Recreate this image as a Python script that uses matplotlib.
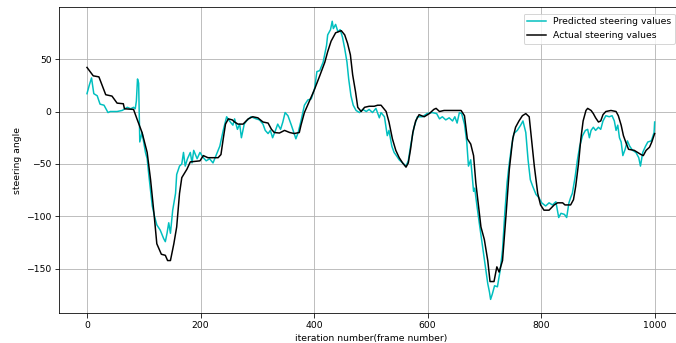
import matplotlib
matplotlib.use('Agg')
import matplotlib.pyplot as plt

# frame numbers and steering values
pred_frames = [0, 4, 8, 12, 18, 23, 30, 37, 41, 53, 62, 71, 77, 82, 85, 87, 89, 91, 93, 97,
               103, 106, 109, 115, 119, 123, 129, 135, 138, 141, 144, 147, 151, 156, 158, 163,
               167, 170, 173, 177, 182, 185, 188, 194, 199, 205, 210, 216, 222, 228, 234, 240,
               246, 251, 257, 260, 265, 269, 272, 277, 281, 289, 298, 304, 310, 314, 319, 323,
               327, 332, 336, 341, 345, 349, 354, 360, 365, 368, 372, 377, 383, 389, 395, 401,
               405, 410, 416, 422, 424, 429, 432, 434, 438, 442, 446, 450, 454, 458, 461, 465,
               469, 474, 480, 486, 492, 497, 503, 509, 515, 518, 524, 529, 532, 537, 541, 545,
               550, 556, 562, 566, 570, 576, 582, 591, 599, 608, 616, 621, 626, 632, 638, 644,
               648, 652, 656, 660, 665, 669, 672, 676, 681, 683, 687, 691, 697, 701, 706, 709,
               711, 714, 718, 723, 728, 732, 736, 740, 744, 748, 752, 758, 764, 768, 773, 777,
               781, 785, 791, 796, 801, 808, 814, 820, 826, 831, 835, 841, 845, 849, 852, 855,
               860, 864, 868, 873, 878, 882, 885, 888, 892, 896, 901, 905, 909, 914, 920, 925,
               929, 932, 935, 938, 941, 944, 948, 952, 956, 961, 967, 972, 975, 979, 984, 988,
               994, 996, 999, 1000]
pred_values = [17, 25, 32, 17, 15, 7, 6, -1, 0, 0, 1, 4, 2.6, 4, 2.6, 10, 31, 27, -29, -20,
               -39, -45, -61, -90, -100, -108, -113, -121, -124, -116, -106, -116, -94, -78, -60, -52,
               -50, -39, -52, -45, -39, -49, -37, -45, -39, -44, -47, -45, -49, -41, -33, -18,
               -5, -9, -13, -7, -17, -12, -25, -12, -9, -5, -7, -8, -12, -18, -21, -18,
               -25, -18, -12, -17, -10, -1, -4, -13, -21, -26, -20, -9, 6, 11, 12, 22,
               38, 39, 47, 63, 73, 78, 86, 79, 83, 76, 78, 71, 60, 47, 31, 15,
               6, 1, -1, 2, 0, 2, -1, 3, -6, -1, -5, -23, -18, -33, -39, -42,
               -46, -49, -52, -47, -33, -15, -5, -5, -2, -1, -2, -7, -5, -8, -6, -9,
               -5, -11, -1, -2, -12, -29, -52, -46, -76, -73, -90, -106, -129, -145, -164, -172,
               -179, -174, -166, -167, -151, -132, -97, -68, -49, -33, -21, -18, -13, -9, -20, -46,
               -65, -71, -79, -82, -87, -90, -87, -89, -86, -101, -97, -98, -101, -87, -82, -78,
               -62, -46, -33, -23, -18, -17, -25, -18, -15, -18, -15, -17, -9, -4, -5, -4,
               -9, -18, -13, -25, -29, -42, -36, -28, -33, -37, -39, -44, -52, -39, -33, -29,
               -28, -25, -20, -10]

actual_frames = [0, 11, 21, 33, 44, 53, 64, 66, 82, 88, 97, 106, 112, 118, 123, 131, 138, 142,
                 147, 153, 158, 163, 167, 176, 182, 199, 205, 213, 231, 236, 240, 244, 249, 256,
                 260, 266, 275, 284, 292, 301, 310, 319, 325, 330, 339, 348, 357, 365, 374, 377,
                 383, 392, 400, 410, 419, 424, 430, 438, 448, 454, 459, 464, 468, 473, 477, 483,
                 489, 497, 506, 512, 518, 527, 532, 538, 544, 550, 556, 562, 566, 570, 574, 579,
                 585, 594, 603, 611, 615, 621, 629, 641, 659, 665, 670, 676, 681, 685, 689, 694,
                 700, 706, 710, 717, 722, 726, 732, 738, 744, 750, 755, 761, 767, 773, 779, 783,
                 788, 794, 799, 805, 814, 823, 829, 838, 842, 852, 857, 861, 866, 870, 874, 879,
                 882, 888, 892, 896, 901, 905, 909, 914, 923, 932, 936, 941, 945, 949, 954, 964,
                 970, 976, 980, 985, 991, 995, 1000]
actual_values = [42, 34, 33, 16, 14.7, 8, 7.4, 2.6, 2, -7, -20, -39, -65, -97, -126, -136, -137, -142,
                 -142, -126, -110, -78, -63, -55, -48, -47, -42, -44, -44, -41, -26, -12, -7, -8,
                 -10, -12, -12, -7, -5, -6, -10, -11, -17, -20, -20.5, -18, -20, -21, -20, -13,
                 -1, 10, 20, 34, 47, 57, 67, 75, 77, 73, 65, 54, 35, 19, 4, 0,
                 4, 5, 5, 6, 6, 0, -10, -26, -37, -44, -49, -53, -49, -36, -20, -9,
                 -3, -5, -2, 2, 3, 0, 1, 1, 1, -4, -26, -31, -42, -68, -87, -110,
                 -122, -142, -162, -162, -148, -153, -142, -100, -55, -26, -15, -9, -4, -2, -5, -26,
                 -52, -78, -89, -94, -94, -89, -87, -87, -89, -89, -84, -71, -49, -26, -9, 1,
                 3, 1, -2, -6, -10, -9, -3, 0, 1, 0, -4, -13, -23, -29, -36, -37,
                 -39, -41, -42, -37, -34, -29, -21]

plt.rcParams['font.size'] = 9.3
plt.rcParams['xtick.major.size'] = 4.5
plt.rcParams['ytick.major.size'] = 4.5
plt.rcParams['xtick.major.pad'] = 3
plt.rcParams['ytick.major.pad'] = 2.5

fig = plt.figure(figsize=(676 / 72, 343 / 72), dpi=72)
ax = fig.add_axes([0.0867, 0.0866, 0.9237, 0.892])

ax.plot(pred_frames, pred_values, color='c', label='Predicted steering values')
ax.plot(actual_frames, actual_values, color='k', label='Actual steering values')
ax.set_xticks([0, 200, 400, 600, 800, 1000])
ax.set_yticks([-150, -100, -50, 0, 50])
ax.grid(True)
ax.set_xlabel('iteration number(frame number)')
ax.set_ylabel('steering angle')
# legend runs up to the right edge, as in the cropped original
ax.legend(loc='upper right', bbox_to_anchor=(0.995, 0.995))

fig.savefig('out.png', dpi=72)
